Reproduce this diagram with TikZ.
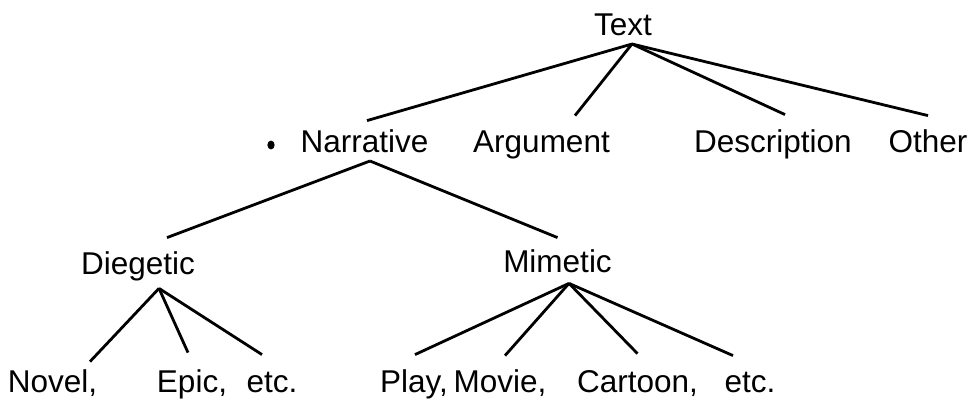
\documentclass[tikz,border=0pt]{standalone}
\usepackage{fontspec}
\setmainfont{Liberation Sans}
\usetikzlibrary{shapes.geometric}

\begin{document}
\begin{tikzpicture}[
        x=.5pt, y=-.5pt,
        every node/.style={anchor=base, inner sep=0pt, text height=11.3pt, text depth=3.3pt,
                           font=\fontsize{15.75}{19}\selectfont},
        every path/.style={line width=1.4pt},
        dot/.style={ellipse, fill, anchor=center, text height=0pt, text depth=0pt,
                    minimum width=3.6pt, minimum height=4.4pt}
    ]
  \useasboundingbox (0,0) rectangle (974,400);

  % Nodes
  \node (text) at (623,36) {Text};
  \node[dot] (dot) at (271,145) {};
  \node (narr) at (364.5,153) {Narrative};
  \node (arg) at (541.5,153) {Argument};
  \node (descr) at (773,153) {Description};
  \node (other) at (928,153) {Other};
  \node (dieg) at (138,275) {Diegetic};
  \node (mim) at (557.5,273) {Mimetic};
  \node (novel) at (52.5,393) {Novel,};
  \node (epic) at (192,393) {Epic,};
  \node (etcd) at (272,393) {etc.};
  \node (play) at (414,393) {Play,};
  \node (movie) at (500,393) {Movie,};
  \node (cartoon) at (637.5,393) {Cartoon,};
  \node (etcm) at (750,393) {etc.};

  % Text
  \draw ([xshift=4.5pt]text.south) -- ([shift={(1.25pt,4.2pt)}]narr.north);
  \draw ([xshift=4.5pt]text.south) -- ([shift={(16.75pt,6.7pt)}]arg.north);
  \draw ([xshift=4.5pt]text.south) -- ([shift={(6pt,7.2pt)}]descr.north);
  \draw ([xshift=4.5pt]text.south) -- ([yshift=6.7pt]other.north);

  % Narrative
  \draw ([xshift=2.75pt]narr.south) -- ([shift={(14.5pt,6.7pt)}]dieg.north);
  \draw ([xshift=2.75pt]narr.south) -- ([yshift=5.7pt]mim.north);

  % Diegetic
  \draw ([shift={(10.5pt,-2.7pt)}]dieg.south) -- ([shift={(18.75pt,3.7pt)}]novel.north);
  \draw ([shift={(10.5pt,-2.7pt)}]dieg.south) -- ([shift={(-2pt,8.2pt)}]epic.north);
  \draw ([shift={(10.5pt,-2.7pt)}]dieg.south) -- ([shift={(-5pt,7.2pt)}]etcd.north);

  % Mimetic
  \draw ([shift={(5.75pt,-1.2pt)}]mim.south) -- ([shift={(0.5pt,7.2pt)}]play.north);
  \draw ([shift={(5.75pt,-1.2pt)}]mim.south) -- ([shift={(2.5pt,6.7pt)}]movie.north);
  \draw ([shift={(5.75pt,-1.2pt)}]mim.south) -- ([yshift=7.7pt]cartoon.north);
  \draw ([shift={(5.75pt,-1.2pt)}]mim.south) -- ([shift={(-8.5pt,6.7pt)}]etcm.north);
\end{tikzpicture}
\end{document}
